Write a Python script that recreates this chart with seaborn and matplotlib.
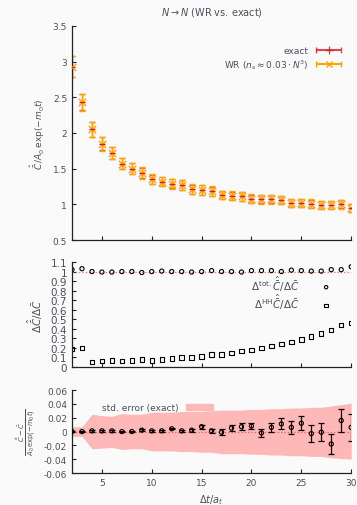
import matplotlib
matplotlib.use('Agg')
import matplotlib.pyplot as plt
import numpy as np
import pandas as pd
import seaborn as sns
from matplotlib.patches import Patch
from matplotlib.legend_handler import HandlerErrorbar

# Data
dt = list(range(2, 31))

ratio_val = [2.93, 2.43, 2.05, 1.85, 1.72, 1.57, 1.50, 1.44, 1.35, 1.32,
             1.29, 1.27, 1.21, 1.20, 1.18, 1.13, 1.12, 1.11, 1.08, 1.07,
             1.07, 1.06, 1.02, 1.02, 1.01, 0.99, 0.99, 1.00, 0.95]
ratio_err = [0.15, 0.12, 0.11, 0.10, 0.09, 0.08, 0.08, 0.08, 0.07, 0.07,
             0.07, 0.07, 0.07, 0.07, 0.07, 0.06, 0.06, 0.06, 0.06, 0.06,
             0.06, 0.06, 0.06, 0.06, 0.06, 0.06, 0.06, 0.06, 0.06]

tot_ratio = [1.02, 1.03, 1.00, 0.995, 0.995, 1.00, 1.00, 0.99, 1.00, 1.005,
             1.00, 1.00, 0.995, 1.00, 1.01, 1.00, 1.00, 0.995, 1.01, 1.01,
             1.01, 1.00, 1.015, 1.01, 1.005, 1.005, 1.02, 1.02, 1.05]
hh_ratio = [0.19, 0.20, 0.05, 0.06, 0.07, 0.06, 0.07, 0.08, 0.07, 0.08,
            0.09, 0.10, 0.10, 0.11, 0.13, 0.13, 0.15, 0.17, 0.18, 0.20,
            0.22, 0.24, 0.26, 0.29, 0.32, 0.35, 0.39, 0.44, 0.46]

diff_val = [0.0, 0.0, 0.001, 0.001, 0.001, 0.0, 0.0, 0.002, 0.001, 0.001,
            0.004, 0.001, 0.002, 0.007, 0.001, -0.001, 0.005, 0.007, 0.008, -0.002,
            0.006, 0.011, 0.006, 0.012, -0.003, -0.001, -0.018, 0.016, 0.006]
diff_err = [0.001, 0.001, 0.001, 0.001, 0.001, 0.001, 0.001, 0.001, 0.001, 0.001,
            0.001, 0.001, 0.002, 0.003, 0.003, 0.004, 0.004, 0.005, 0.005, 0.006,
            0.007, 0.008, 0.009, 0.010, 0.012, 0.013, 0.015, 0.016, 0.019]
band_hi = [0.007, 0.007, 0.025, 0.023, 0.022, 0.026, 0.025, 0.025, 0.028, 0.028,
           0.028, 0.029, 0.029, 0.029, 0.030, 0.031, 0.031, 0.031, 0.032, 0.032,
           0.033, 0.033, 0.034, 0.034, 0.035, 0.035, 0.037, 0.039, 0.041]
band_lo = [-0.007, -0.007, -0.025, -0.024, -0.023, -0.026, -0.025, -0.025, -0.028, -0.028,
           -0.028, -0.029, -0.029, -0.030, -0.030, -0.032, -0.032, -0.032, -0.033, -0.033,
           -0.034, -0.034, -0.035, -0.035, -0.036, -0.036, -0.038, -0.039, -0.040]

df = pd.DataFrame({'dt': dt, 'ratio': ratio_val, 'err': ratio_err,
                   'tot': tot_ratio, 'hh': hh_ratio,
                   'diff': diff_val, 'derr': diff_err,
                   'hi': band_hi, 'lo': band_lo})

sns.set_theme(style='ticks')
txt = '#4a5058'
plt.rcParams.update({'font.family': ['DejaVu Sans'], 'font.size': 6,
                     'text.color': txt, 'axes.labelcolor': txt,
                     'xtick.color': '#222222', 'ytick.color': '#222222',
                     'xtick.labelcolor': txt, 'ytick.labelcolor': txt,
                     'mathtext.fontset': 'dejavusans'})

fig = plt.figure(figsize=(3.57, 5.06), dpi=100, facecolor='#fafafa')
left, width = 0.2017, 0.782
ax1 = fig.add_axes([left, 0.5237, width, 0.423])
ax2 = fig.add_axes([left, 0.2727, width, 0.2075])
ax3 = fig.add_axes([left, 0.0632, width, 0.164])

red = '#d7192b'
orange = '#ffa500'

# Top panel
ax1.errorbar(df['dt'], df['ratio'], yerr=df['err'] * 0.95, fmt='none', ecolor=red,
             elinewidth=1.0, capsize=2, capthick=1.0, alpha=0.7)
ax1.errorbar(df['dt'], df['ratio'], yerr=df['err'], fmt='none', ecolor=orange,
             elinewidth=1.0, capsize=2, capthick=1.0)
sns.scatterplot(data=df, x='dt', y='ratio', ax=ax1, marker='x', s=28,
                color=orange, linewidth=1.0, zorder=4, legend=False)
sns.scatterplot(data=df, x='dt', y='ratio', ax=ax1, marker='_', s=22,
                color=red, linewidth=1.0, zorder=5, legend=False)
ax1.set_ylim(0.5, 3.5)
ax1.set_yticks(np.arange(0.5, 3.51, 0.5))
ax1.set_yticklabels(['%g' % v for v in np.arange(0.5, 3.51, 0.5)])
ax1.set_ylabel(r'$\hat{\bar{C}}\,/A_0\,\exp(-m_0t)$', fontsize=6.5)
fig.text(0.593, 0.975, r'$N \to N$ (WR vs. exact)', fontsize=7, color=txt,
         ha='center', va='center')

# legend handles: off-screen dummy points so the horizontal bars show
h_exact = ax1.errorbar([-10], [0], xerr=[1], fmt='+', color=red, ecolor=red,
                       capsize=2, markersize=6, alpha=0.8)
h_wr = ax1.errorbar([-10], [0], xerr=[1], fmt='x', color=orange, ecolor=orange,
                    capsize=2, markersize=5)
ax1.legend([h_exact, h_wr], ['exact', r'WR ($n_s \approx 0.03 \cdot N^3$)'],
           loc='upper right', bbox_to_anchor=(0.99, 0.93), markerfirst=False,
           frameon=False, fontsize=6.5, handlelength=3.2, labelspacing=0.2,
           borderaxespad=0.2, handletextpad=0.6,
           handler_map={type(h_exact): HandlerErrorbar(xerr_size=1.35)})

# Middle panel
ax2.axhline(1.0, color='#ff6666', linestyle=':', linewidth=0.9, zorder=1)
sns.scatterplot(data=df, x='dt', y='tot', ax=ax2, marker='o', s=9,
                facecolor='none', edgecolor='black', linewidth=0.8,
                label=r'$\Delta^{\rm tot.}\hat{\bar{C}}/\Delta\bar{C}$')
sns.scatterplot(data=df, x='dt', y='hh', ax=ax2, marker='s', s=10,
                facecolor='none', edgecolor='black', linewidth=0.8,
                label=r'$\Delta^{\rm HH}\hat{\bar{C}}/\Delta\bar{C}$')
ax2.set_ylim(0, 1.1)
yt2 = np.round(np.arange(0, 1.11, 0.1), 1)
ax2.set_yticks(yt2)
ax2.set_yticklabels(['%g' % v for v in yt2])
ax2.set_ylabel(r'$\Delta\hat{\bar{C}}/\Delta\bar{C}$', fontsize=7.5)
ax2.legend(loc='upper right', bbox_to_anchor=(0.97, 0.95), markerfirst=False,
           frameon=False, fontsize=7.5, handlelength=2.0, labelspacing=-0.12,
           borderaxespad=0.2, handletextpad=1.6, markerscale=0.8)

# Bottom panel
ax3.fill_between(df['dt'], df['lo'], df['hi'], color='#ffb8b8', linewidth=0, zorder=1)
ax3.axhline(0.0, color='#ff5555', linestyle=':', linewidth=0.9, zorder=2)
ax3.errorbar(df['dt'], df['diff'], yerr=df['derr'], fmt='none', ecolor='black',
             elinewidth=0.9, capsize=2, capthick=0.9, zorder=3)
sns.scatterplot(data=df, x='dt', y='diff', ax=ax3, marker='o', s=9,
                facecolor='none', edgecolor='black', linewidth=0.8, zorder=4,
                legend=False)
ax3.set_ylim(-0.06, 0.06)
yt3 = np.round(np.arange(-0.06, 0.061, 0.02), 2)
ax3.set_yticks(yt3)
ax3.set_yticklabels(['%g' % v if abs(v) > 1e-9 else '0' for v in yt3])
ax3.set_ylabel(r'$\frac{\hat{\bar{C}}-\bar{C}}{A_0\,\exp(-m_0t)}$', fontsize=7)
ax3.set_xlabel(r'$\Delta t/a_t$', fontsize=7)
ax3.legend([Patch(color='#ffb8b8')], ['std. error (exact)'], loc='upper left',
           bbox_to_anchor=(0.08, 0.94), markerfirst=False, frameon=False,
           fontsize=6.5, handlelength=3.0, handleheight=0.5)

for ax in (ax1, ax2, ax3):
    ax.set_facecolor('#fafafa')
    ax.set_xlim(2, 30)
    ax.set_xticks([5, 10, 15, 20, 25, 30])
    ax.tick_params(direction='in', length=3, width=0.8, labelsize=6.5)
    sns.despine(ax=ax)
    for s in ('left', 'bottom'):
        ax.spines[s].set_linewidth(0.9)
        ax.spines[s].set_color('#222222')
    if ax is not ax3:
        ax.set_xlabel('')
        ax.tick_params(labelbottom=False)
    else:
        ax.tick_params(labelbottom=True)
ax2.tick_params(axis='y', labelsize=7.5)

fig.savefig('out.png', dpi=100, facecolor='#fafafa')
